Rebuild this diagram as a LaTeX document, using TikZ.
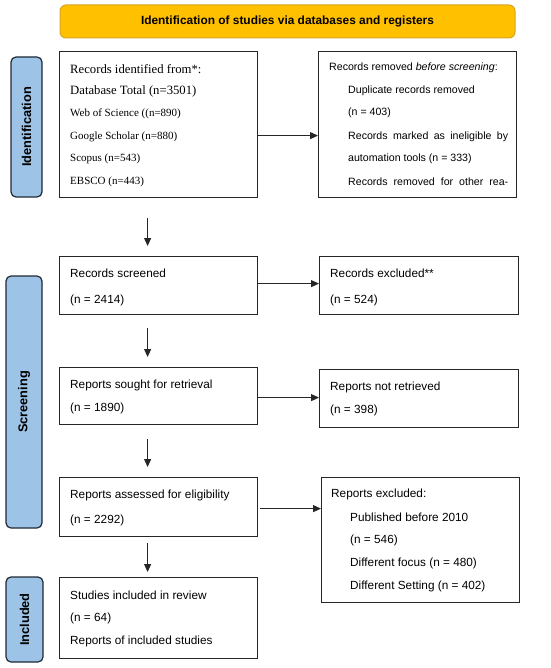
\documentclass[tikz,border=0pt]{standalone}
\usepackage{fontspec}
\usepackage{graphicx}
\setmainfont{Liberation Serif}
\setsansfont{Liberation Sans}
\usetikzlibrary{arrows.meta}
\definecolor{bannerfill}{HTML}{FFC000}
\definecolor{bannerline}{HTML}{D9A520}
\definecolor{phasefill}{HTML}{9DC3E6}
\definecolor{phaseline}{HTML}{1F2A36}
\begin{document}
\begin{tikzpicture}[x=1pt,y=-1pt,
  box/.style={draw=black!85,line width=1.2pt,anchor=north west,inner sep=0pt},
  phasebox/.style={draw=phaseline,fill=phasefill,line width=1.2pt,rounded corners=5pt,inner sep=0pt,
     font=\sffamily\bfseries\fontsize{12.8}{14}\selectfont},
  txt/.style={anchor=west,inner sep=0pt,font=\sffamily\fontsize{11.8}{14}\selectfont},
  smalltxt/.style={anchor=west,inner sep=0pt,font=\sffamily\fontsize{10.6}{13}\selectfont},
  serifbig/.style={anchor=west,inner sep=0pt,font=\rmfamily\fontsize{12.7}{15}\selectfont},
  serifsmall/.style={anchor=west,inner sep=0pt,font=\rmfamily\fontsize{11}{13}\selectfont},
  arr/.style={draw=black!85,line width=1pt,-{Triangle[length=8pt,width=7pt]}}
]
\useasboundingbox (0,0) rectangle (550,668);
\fill[white] (0,0) rectangle (550,668);

% banner
\node[draw=bannerline,fill=bannerfill,line width=1pt,rounded corners=6pt,inner sep=0pt,
  minimum width=455pt,minimum height=33pt,font=\sffamily\bfseries\fontsize{11.9}{14}\selectfont]
  (banner) at (287.5,21.5) {Identification of studies via databases and registers};

% phase labels
\node[phasebox,minimum width=31pt,minimum height=140pt] (pid) at (26.5,127) {\rotatebox{90}{Identification}};
\node[phasebox,minimum width=36pt,minimum height=252pt] (pscr) at (24,402) {\rotatebox{90}{Screening}};
\node[phasebox,minimum width=37pt,minimum height=85pt] (pinc) at (24.5,619.5) {\rotatebox{90}{Included}};

% boxes
\node[box,minimum width=198pt,minimum height=146pt] (b1) at (59,51) {};
\node[box,minimum width=198pt,minimum height=146pt] (b2) at (318,51) {};
\node[box,minimum width=198pt,minimum height=58pt] (b3) at (59,256) {};
\node[box,minimum width=199pt,minimum height=58pt] (b4) at (319,256) {};
\node[box,minimum width=198pt,minimum height=57pt] (b5) at (59,367) {};
\node[box,minimum width=199pt,minimum height=58pt] (b6) at (319,369) {};
\node[box,minimum width=198pt,minimum height=59pt] (b7) at (59,477) {};
\node[box,minimum width=198pt,minimum height=125pt] (b8) at (321,477) {};
\node[box,minimum width=198pt,minimum height=81pt] (b9) at (59,577) {};

% box 1 text
\node[serifbig] (t1a) at (70,69) {Records identified from*:};
\node[serifbig] (t1b) at (70,91) {Database Total (n=3501)};
\node[serifsmall] (t1c) at (70,114) {Web of Science ((n=890)};
\node[serifsmall] (t1d) at (70,137) {Google Scholar (n=880)};
\node[serifsmall] (t1e) at (70,159) {Scopus (n=543)};
\node[serifsmall] (t1f) at (70,182) {EBSCO (n=443)};

% box 2 text
\node[smalltxt] (t2a) at (329,68) {Records removed \textit{before screening}:};
\node[smalltxt] (t2b) at (348,91) {Duplicate records removed};
\node[smalltxt] (t2c) at (348,113) {(n = 403)};
\node[smalltxt] (t2d) at (348,137) {\makebox[160pt][s]{Records marked as ineligible by}};
\node[smalltxt] (t2e) at (348,159) {automation tools (n = 333)};
\node[smalltxt] (t2f) at (348,182) {\makebox[160pt][s]{Records removed for other rea-}};

% box 3,4
\node[txt] (t3a) at (70,273) {Records screened};
\node[txt] (t3b) at (70,300) {(n = 2414)};
\node[txt] (t4a) at (330,273) {Records excluded**};
\node[txt] (t4b) at (330,300) {(n = 524)};

% box 5,6
\node[txt] (t5a) at (70,385) {Reports sought for retrieval};
\node[txt] (t5b) at (70,408) {(n = 1890)};
\node[txt] (t6a) at (330,387) {Reports not retrieved};
\node[txt] (t6b) at (330,410) {(n = 398)};

% box 7,8
\node[txt] (t7a) at (70,495) {Reports assessed for eligibility};
\node[txt] (t7b) at (70,520) {(n = 2292)};
\node[txt] (t8a) at (331,494) {Reports excluded:};
\node[txt] (t8b) at (350,517) {Published before 2010};
\node[txt] (t8c) at (350,540) {(n = 546)};
\node[txt] (t8d) at (350,563) {Different focus (n = 480)};
\node[txt] (t8e) at (350,586) {Different Setting (n = 402)};

% box 9
\node[txt] (t9a) at (70,595) {Studies included in review};
\node[txt] (t9b) at (70,618) {(n = 64)};
\node[txt] (t9c) at (70,641) {Reports of included studies};

% horizontal arrows
\coordinate (s1) at ([yshift=-11pt]b1.east);
\draw[arr] (s1) -- (s1 -| b2.west);
\coordinate (s2) at ([yshift=2pt]b3.east);
\draw[arr] (s2) -- (s2 -| b4.west);
\coordinate (s3) at ([yshift=-1.5pt]b5.east);
\draw[arr] (s3) -- (s3 -| b6.west);
\coordinate (s4) at ([shift={(2pt,-1.5pt)}]b7.east);
\draw[arr] (s4) -- (s4 -| b8.west);

% vertical arrows
\draw[arr] ([shift={(-11pt,-20pt)}]b1.south) -- ([shift={(-11pt,10pt)}]b3.north);
\draw[arr] ([shift={(-11pt,-13pt)}]b3.south) -- ([shift={(-11pt,10pt)}]b5.north);
\draw[arr] ([shift={(-11pt,-14pt)}]b5.south) -- ([shift={(-11pt,10pt)}]b7.north);
\draw[arr] ([shift={(-11pt,-6pt)}]b7.south) -- ([shift={(-11pt,5pt)}]b9.north);
\end{tikzpicture}
\end{document}
